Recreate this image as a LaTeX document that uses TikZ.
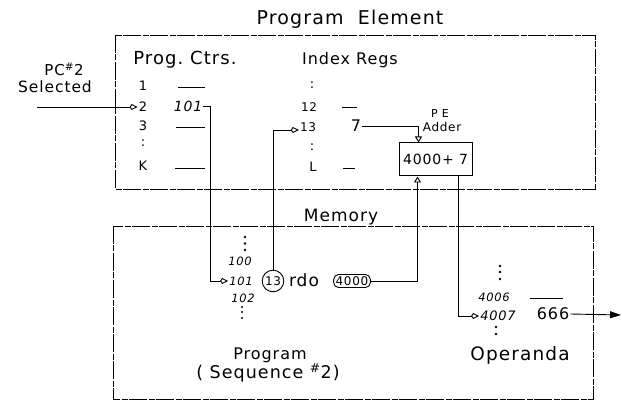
\documentclass[tikz,border=0pt]{standalone}
\usepackage{fontspec}
\setmainfont{DejaVu Sans}[LetterSpace=6]
\usetikzlibrary{arrows.meta, positioning}

\tikzset{
  frame/.style={line width=0.9pt, dash pattern=on 18pt off 1.5pt on 6pt off 1.5pt},
  wire/.style={line width=0.9pt},
  kitetip/.style={wire, -{Kite[open, length=8pt, width=6pt]}},
  feedtip/.style={wire, -{Triangle[open, length=6pt, width=7pt]}},
  outtip/.style={wire, -{Triangle[length=11pt, width=7pt]}},
  lbl/.style={inner sep=1pt, font=\fontsize{17}{19}\selectfont},
  num/.style={inner sep=1pt, font=\fontsize{13}{15}\selectfont},
  memnum/.style={inner sep=1pt, font=\itshape\fontsize{11.5}{13}\selectfont},
  blank/.style={line width=0.9pt}
}

\begin{document}
\begin{tikzpicture}[x=1pt, y=-1pt]
  \useasboundingbox (0,0) rectangle (622,409);
  % frames
  \draw[frame] (115,35) rectangle (595,189);
  \draw[frame] (113,226) rectangle (593,399);
  \node[lbl, font=\fontsize{19}{21}\selectfont] (petitle) at (350,19) {Program\ \ Element};
  \node[lbl] (memtitle) at (341,217) {Memory};

  % selection input
  \node[inner sep=1pt, font=\fontsize{15}{17}\selectfont] (pcsel) at (64,69) {PC\textsuperscript{\#}2};
  \node[inner sep=1pt, font=\fontsize{15.5}{17}\selectfont] (selected) at (55,87) {Selected};
  \coordinate (pcin) at (37,107);

  % program counters
  \node[lbl, font=\fontsize{18}{20}\selectfont] (pchead) at (185,60) {Prog.\ Ctrs.};
  \node[num] (pc1) at (143,86) {1};
  \node[num] (pc2) at (143,107) {2};
  \node[num] (pc3) at (143,126) {3};
  \node[num] (pcdots) at (143,143) {:};
  \node[num] (pck) at (143,166) {K};
  \node[inner sep=1pt, font=\itshape\fontsize{14}{16}\selectfont] (pcv2) at (188,106) {101};
  \draw[blank] (178,87) -- (205,87);
  \draw[blank] (176,127) -- (205,127);
  \draw[blank] (175,168) -- (205,168);

  % index registers
  \node[lbl, font=\fontsize{16}{18}\selectfont] (irhead) at (350,60) {Index Regs};
  \node[num] (irdots1) at (312,85) {:};
  \node[num, font=\fontsize{12}{14}\selectfont] (ir12) at (309,107) {12};
  \node[num, font=\fontsize{12}{14}\selectfont] (ir13) at (308,127) {13};
  \node[num] (irdots2) at (312,147) {:};
  \node[num] (irl) at (313,167) {L};
  \node[inner sep=1pt, font=\fontsize{16}{18}\selectfont] (iv13) at (356,126) {7};
  \draw[blank] (342,107) -- (357,107);
  \draw[blank] (343,168) -- (355,168);

  % adder
  \node[inner sep=1pt, font=\fontsize{11}{13}\selectfont] (pelbl) at (440,113) {P E};
  \node[inner sep=1pt, font=\fontsize{12}{14}\selectfont] (adderlbl) at (442,127) {Adder};
  \node[draw, line width=1pt, minimum width=73pt, minimum height=33pt,
        font=\fontsize{14}{16}\selectfont] (adder) at (435.5,159.5) {4000+ 7};

  % program sequence in memory
  \foreach \y in {237,243.5,250} \fill (245,\y) circle (1.3);
  \node[memnum] (m100) at (240,261) {100};
  \node[memnum] (m101) at (241,281) {101};
  \node[memnum] (m102) at (243,298) {102};
  \foreach \y in {307,312,318} \fill (242,\y) circle (1.2);
  \node[draw, circle, line width=0.9pt, inner sep=1.2pt,
        font=\fontsize{12}{14}\selectfont] (c13) at (273,281) {13};
  \node[inner sep=1pt, font=\fontsize{17}{19}\selectfont] (rdo) at (304,280) {rdo};
  \node[draw, rounded corners=5pt, line width=0.9pt, inner sep=2pt,
        font=\fontsize{12}{14}\selectfont] (k4000) at (352,281) {4000};
  \node[lbl, font=\fontsize{16}{18}\selectfont] (proglbl) at (270,355) {Program};
  \node[lbl, font=\fontsize{17.5}{19}\selectfont] (seqlbl) at (268,373) {( Sequence \textsuperscript{\#}2)};

  % operands in memory
  \foreach \y in {266,272,279} \fill (500,\y) circle (1.3);
  \node[memnum] (m4006) at (494,297) {4006};
  \draw[blank] (530,298) -- (563,298);
  \node[memnum, font=\itshape\fontsize{13}{15}\selectfont] (m4007) at (498,316) {4007};
  \node[inner sep=1pt, font=\fontsize{16}{18}\selectfont] (m666) at (553,314) {666};
  \foreach \y in {327,334} \fill (496,\y) circle (1.3);
  \node[lbl, font=\fontsize{18.5}{20}\selectfont] (operlbl) at (520,355) {Operanda};
  \coordinate (opout) at (621,315);

  % connectors
  \draw[kitetip] (pcin) -- (pc2.west);
  \coordinate (pcdrop) at (210,281);
  \draw[kitetip] (pcv2.east) -| (pcdrop) -- (m101.west);
  \draw[kitetip] (c13.north) |- ([yshift=-3pt]ir13.west);
  \draw[feedtip] (iv13.east) -| ([xshift=20pt]adder.north west);
  \draw[feedtip] (k4000.east) -| ([xshift=19pt]adder.south west);
  \draw[kitetip] ([xshift=-14pt]adder.south east) |- (m4007.west);
  \draw[outtip] (m666.east) -- (opout);
\end{tikzpicture}
\end{document}
